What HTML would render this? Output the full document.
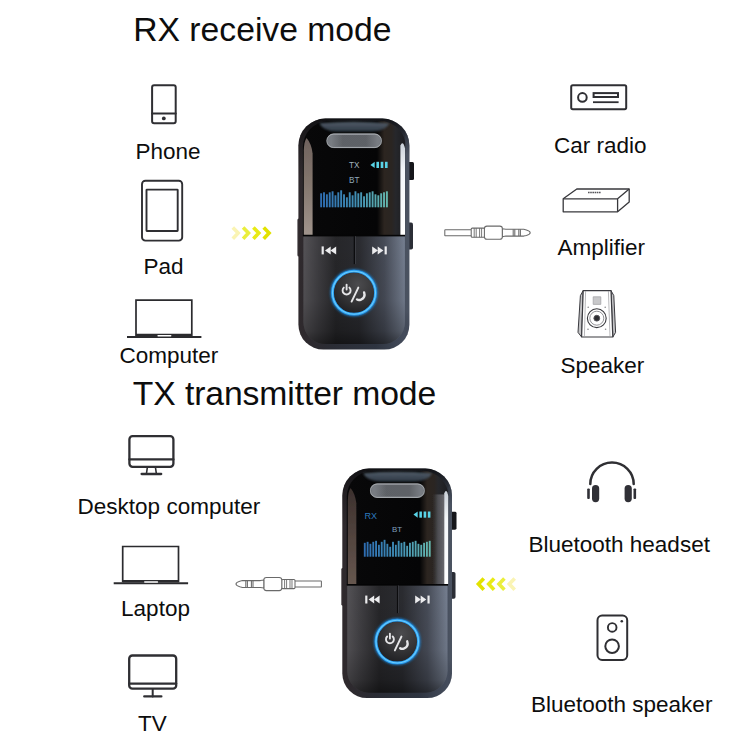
<!DOCTYPE html>
<html>
<head>
<meta charset="utf-8">
<title>RX receive mode / TX transmitter mode</title>
<style>
html,body{margin:0;padding:0;background:#fff;}
body{width:750px;height:750px;position:relative;overflow:hidden;font-family:"Liberation Sans",sans-serif;color:#0d0d0d;}
.t{position:absolute;white-space:nowrap;line-height:1;margin:0;}
.h{font-size:33.7px;font-weight:normal;}
.l{font-size:22.5px;}
svg{position:absolute;left:0;top:0;}
svg text{font-family:"Liberation Sans",sans-serif;}
</style>
</head>
<body>
<svg width="750" height="750" viewBox="0 0 750 750">

<defs>
  <linearGradient id="gBody" x1="0" y1="0" x2="1" y2="0">
    <stop offset="0" stop-color="#2f292c"/>
    <stop offset="0.3" stop-color="#2a2c34"/>
    <stop offset="0.7" stop-color="#2e3440"/>
    <stop offset="1" stop-color="#485060"/>
  </linearGradient>
  <linearGradient id="gBodyV" x1="0" y1="0" x2="0" y2="1">
    <stop offset="0" stop-color="#0c0c0e" stop-opacity="0.85"/>
    <stop offset="0.1" stop-color="#0c0c0e" stop-opacity="0.35"/>
    <stop offset="0.25" stop-color="#0c0c0e" stop-opacity="0"/>
    <stop offset="1" stop-color="#0c0c0e" stop-opacity="0"/>
  </linearGradient>
  <linearGradient id="gRim" x1="0" y1="0" x2="0" y2="1">
    <stop offset="0" stop-color="#3a414d" stop-opacity="0"/>
    <stop offset="0.12" stop-color="#4a5260"/>
    <stop offset="0.85" stop-color="#4a5260"/>
    <stop offset="1" stop-color="#363c49" stop-opacity="0"/>
  </linearGradient>
  <linearGradient id="gScreen" x1="0" y1="0" x2="1" y2="0">
    <stop offset="0" stop-color="#080809"/>
    <stop offset="0.72" stop-color="#050506"/>
    <stop offset="0.79" stop-color="#2c2520"/>
    <stop offset="0.86" stop-color="#2a2522"/>
    <stop offset="0.9" stop-color="#26272b"/>
    <stop offset="1" stop-color="#1b1c20"/>
  </linearGradient>
  <linearGradient id="gLeftBand" x1="0" y1="0" x2="0" y2="1">
    <stop offset="0" stop-color="#6f625e"/>
    <stop offset="0.5" stop-color="#85786f"/>
    <stop offset="1" stop-color="#a0948c"/>
  </linearGradient>
  <linearGradient id="gRightBand" x1="0" y1="0" x2="0" y2="1">
    <stop offset="0" stop-color="#c9d0d8"/>
    <stop offset="0.3" stop-color="#f4f7fa"/>
    <stop offset="1" stop-color="#ffffff"/>
  </linearGradient>
  <linearGradient id="gLeftBand2" x1="0" y1="0" x2="0" y2="1">
    <stop offset="0" stop-color="#3b302d"/>
    <stop offset="0.5" stop-color="#52443e"/>
    <stop offset="1" stop-color="#66574f"/>
  </linearGradient>
  <linearGradient id="gGrayBand" x1="0" y1="0" x2="1" y2="0">
    <stop offset="0" stop-color="#3a3a3e" stop-opacity="0"/>
    <stop offset="0.45" stop-color="#505054" stop-opacity="0.9"/>
    <stop offset="1" stop-color="#6a6a70"/>
  </linearGradient>
  <g id="ov1" clip-path="url(#cBody)">
    <path d="M5.4 116.2 V32 Q5.6 23 8.2 19.5 Q13 25 14.2 35 V116.2 Z" fill="url(#gLeftBand)" filter="url(#fSoft2)"/>
    <path d="M102 116.2 V27 Q104.5 21 106.7 30 V116.2 Z" fill="url(#gRightBand)" filter="url(#fSoft2)"/>
    <rect x="106.7" y="10" width="4.3" height="215" fill="url(#gRim)"/>
  </g>
  <g id="ov2" clip-path="url(#cBody)">
    <path d="M5.6 116.2 V32 Q5.8 23 8.4 19.5 Q13 25 14.2 35 V116.2 Z" fill="url(#gLeftBand2)" filter="url(#fSoft2)"/>
    <rect x="91" y="26" width="12.4" height="90.2" fill="url(#gGrayBand)" filter="url(#fSoft2)"/>
    <path d="M103.2 116.2 V25 Q105.4 19 107.4 28 V116.2 Z" fill="url(#gRightBand)" filter="url(#fSoft2)"/>
    <rect x="107.4" y="10" width="3.6" height="215" fill="url(#gRim)"/>
  </g>
  <linearGradient id="gPanel" x1="0" y1="0" x2="1" y2="0">
    <stop offset="0" stop-color="#58565a"/>
    <stop offset="0.13" stop-color="#434246"/>
    <stop offset="0.32" stop-color="#28282b"/>
    <stop offset="0.55" stop-color="#2c2d32"/>
    <stop offset="0.8" stop-color="#4a4f5b"/>
    <stop offset="1" stop-color="#7a8496"/>
  </linearGradient>
  <linearGradient id="gPanelV" x1="0" y1="0" x2="0" y2="1">
    <stop offset="0" stop-color="#000" stop-opacity="0.04"/>
    <stop offset="0.6" stop-color="#000" stop-opacity="0.1"/>
    <stop offset="0.88" stop-color="#000" stop-opacity="0.28"/>
    <stop offset="1" stop-color="#000" stop-opacity="0.5"/>
  </linearGradient>
  <linearGradient id="gGrille" x1="0" y1="0" x2="0" y2="1">
    <stop offset="0" stop-color="#8d9197"/>
    <stop offset="0.5" stop-color="#5d6167"/>
    <stop offset="1" stop-color="#85898f"/>
  </linearGradient>
  <linearGradient id="gBars" gradientUnits="userSpaceOnUse" x1="21.8" y1="0" x2="90.4" y2="0">
    <stop offset="0" stop-color="#2e6db2"/>
    <stop offset="0.5" stop-color="#3f8eb6"/>
    <stop offset="1" stop-color="#66b9ae"/>
  </linearGradient>
  <linearGradient id="gTop" x1="0" y1="0" x2="0" y2="1">
    <stop offset="0" stop-color="#55626f"/>
    <stop offset="1" stop-color="#323c48"/>
  </linearGradient>
  <radialGradient id="gBtn" cx="0.6" cy="0.3" r="0.8">
    <stop offset="0" stop-color="#4b4b4e"/>
    <stop offset="0.5" stop-color="#363638"/>
    <stop offset="1" stop-color="#1c1c1f"/>
  </radialGradient>
  <pattern id="pDots" width="2" height="2" patternUnits="userSpaceOnUse">
    <circle cx="0.5" cy="0.5" r="0.5" fill="#34363a"/>
    <circle cx="1.5" cy="1.5" r="0.5" fill="#34363a"/>
  </pattern>
  <filter id="fGlow" x="-30%" y="-30%" width="160%" height="160%">
    <feGaussianBlur stdDeviation="1.3"/>
  </filter>
  <filter id="fSoft" x="-20%" y="-50%" width="140%" height="200%">
    <feGaussianBlur stdDeviation="1.2"/>
  </filter>
  <filter id="fSoft2" x="-50%" y="-10%" width="200%" height="120%">
    <feGaussianBlur stdDeviation="0.6"/>
  </filter>
  <linearGradient id="gMask" gradientUnits="userSpaceOnUse" x1="33" y1="0" x2="79" y2="0">
    <stop offset="0" stop-color="#000"/>
    <stop offset="0.25" stop-color="#fff"/>
    <stop offset="0.75" stop-color="#fff"/>
    <stop offset="1" stop-color="#000"/>
  </linearGradient>
  <mask id="mG" maskUnits="userSpaceOnUse" x="33" y="16" width="46" height="13">
    <rect x="33" y="16" width="46" height="13" fill="url(#gMask)"/>
  </mask>
  <clipPath id="cBody">
    <path d="M27 0 H84 A27 27 0 0 1 111 27 V206 A25 25 0 0 1 86 231 H25 A25 25 0 0 1 0 206 V27 A27 27 0 0 1 27 0 Z"/>
  </clipPath>
  <g id="dev">
    <!-- side buttons -->
    <rect x="108" y="43.5" width="7.6" height="18" rx="1.5" fill="#15161a"/>
    <rect x="108" y="104" width="6.6" height="27" rx="1.8" fill="#2b2e36"/>
    <rect x="-1" y="100" width="4" height="38" rx="1.5" fill="#3a3437"/>
    <!-- body -->
    <path d="M27 0 H84 A27 27 0 0 1 111 27 V206 A25 25 0 0 1 86 231 H25 A25 25 0 0 1 0 206 V27 A27 27 0 0 1 27 0 Z" fill="url(#gBody)"/>
    <path d="M27 0 H84 A27 27 0 0 1 111 27 V206 A25 25 0 0 1 86 231 H25 A25 25 0 0 1 0 206 V27 A27 27 0 0 1 27 0 Z" fill="url(#gBodyV)"/>
    <g clip-path="url(#cBody)">
      <!-- screen glass -->
      <path d="M29 2.5 H82 A26 26 0 0 1 107.5 28 V117 H4.5 V28 A26 26 0 0 1 29 2.5 Z" fill="url(#gScreen)"/>
      <!-- top reflection -->
      <path d="M21 4.6 Q55 1.6 91 4.6 Q87 12.4 74 13 H38 Q25 12.4 21 4.6 Z" fill="url(#gTop)" filter="url(#fSoft)" opacity="0.95"/>
      <!-- lower panel -->
      <path d="M5 117.5 H106.5 V203.5 A22 22 0 0 1 84.5 225.5 H27 A22 22 0 0 1 5 203.5 Z" fill="url(#gPanel)"/>
      <path d="M5 117.5 H106.5 V203.5 A22 22 0 0 1 84.5 225.5 H27 A22 22 0 0 1 5 203.5 Z" fill="url(#gPanelV)"/>
      <rect x="4.5" y="116.2" width="102.5" height="1.6" fill="#050506"/>
      <!-- divider -->
      <rect x="55.3" y="117.5" width="1.3" height="28" fill="#0c0c0e"/>
      <rect x="56.6" y="117.5" width="0.8" height="28" fill="#4a4c52" opacity="0.7"/>
    </g>
    <!-- grille -->
    <rect x="28" y="14.9" width="55.5" height="14.6" rx="7.3" fill="url(#gGrille)"/>
    <rect x="29.3" y="16.1" width="52.9" height="12.2" rx="6.1" fill="#787c82"/>
    <rect x="33" y="16.3" width="46" height="11.8" fill="url(#pDots)" mask="url(#mG)"/>
    <rect x="28.5" y="15.4" width="54.5" height="13.6" rx="6.8" fill="none" stroke="#b4b8bc" stroke-width="0.9" opacity="0.8"/>
    <!-- bars -->
    <g fill="url(#gBars)">
      <rect x="21.8" y="72" width="68.6" height="16.7" fill="none"/>
      <rect x="21.80" y="74.70" width="1.89" height="14"/>
<rect x="24.66" y="73.70" width="1.89" height="15"/>
<rect x="27.52" y="75.70" width="1.89" height="13"/>
<rect x="30.38" y="73.70" width="1.89" height="15"/>
<rect x="33.23" y="72.70" width="1.89" height="16"/>
<rect x="36.09" y="76.70" width="1.89" height="12"/>
<rect x="38.95" y="73.70" width="1.89" height="15"/>
<rect x="41.81" y="71.70" width="1.89" height="17"/>
<rect x="44.67" y="75.70" width="1.89" height="13"/>
<rect x="47.53" y="78.70" width="1.89" height="10"/>
<rect x="50.38" y="73.70" width="1.89" height="15"/>
<rect x="53.24" y="76.70" width="1.89" height="12"/>
<rect x="56.10" y="72.70" width="1.89" height="16"/>
<rect x="58.96" y="74.70" width="1.89" height="14"/>
<rect x="61.82" y="73.70" width="1.89" height="15"/>
<rect x="64.68" y="77.70" width="1.89" height="11"/>
<rect x="67.53" y="74.70" width="1.89" height="14"/>
<rect x="70.39" y="73.70" width="1.89" height="15"/>
<rect x="73.25" y="72.70" width="1.89" height="16"/>
<rect x="76.11" y="75.70" width="1.89" height="13"/>
<rect x="78.97" y="76.70" width="1.89" height="12"/>
<rect x="81.83" y="74.70" width="1.89" height="14"/>
<rect x="84.68" y="73.70" width="1.89" height="15"/>
<rect x="87.54" y="72.70" width="1.89" height="16"/>
    </g>
    <!-- battery -->
    <g fill="#59d3e6">
      <path d="M72 46.3 L76.3 43.2 V49.4 Z"/>
      <rect x="78" y="43.2" width="2.6" height="6.2"/>
      <rect x="82.3" y="43.2" width="2.6" height="6.2"/>
      <rect x="86.6" y="43.2" width="2.6" height="6.2"/>
    </g>
    <!-- prev / next -->
    <g fill="#ececee">
      <rect x="23.2" y="127.8" width="2.2" height="8"/>
      <path d="M26.6 131.8 L32.3 127.8 V135.8 Z"/>
      <path d="M32 131.8 L37.8 127.8 V135.8 Z"/>
      <rect x="86.2" y="127.8" width="2.2" height="8"/>
      <path d="M85 131.8 L79.3 127.8 V135.8 Z"/>
      <path d="M79.6 131.8 L73.8 127.8 V135.8 Z"/>
    </g>
    <!-- ring button -->
    <circle cx="55.6" cy="174.1" r="21.5" fill="none" stroke="#1e8fe8" stroke-width="4.4" filter="url(#fGlow)" opacity="0.75"/>
    <circle cx="55.6" cy="174.1" r="20.4" fill="url(#gBtn)"/>
    <circle cx="55.6" cy="174.1" r="21.5" fill="none" stroke="#2a9ef2" stroke-width="2.8"/>
    <circle cx="55.6" cy="174.1" r="21.5" fill="none" stroke="#74d4ff" stroke-width="1.1" opacity="0.85"/>
    <!-- power / call icon -->
    <g fill="none" stroke="#e6e6e8" stroke-width="1.9" stroke-linecap="round">
      <path d="M45.4 169 A4 4 0 1 0 51 169"/>
      <path d="M48.2 166.2 V171"/>
      <path d="M59.9 169 L53.2 183" stroke-width="1.9"/>
      <path d="M65.7 173.8 Q67.4 178.8 62.6 181 Q60.2 182 58.6 180.8" stroke-width="2.4"/>
    </g>
  </g>
</defs>

<use href="#dev" transform="translate(298.4,118.6)"/>
<use href="#ov1" transform="translate(298.4,118.6)"/>
<g transform="translate(298.4,118.6)">
  <text x="50.6" y="49.6" font-size="8.2" fill="#a3b4be">TX</text>
  <text x="50.6" y="64.6" font-size="8.2" fill="#8fa9b8">BT</text>
</g>
<use href="#dev" transform="translate(342.3,468.6) scale(0.988,0.9935)"/>
<use href="#ov2" transform="translate(342.3,468.6) scale(0.988,0.9935)"/>
<g transform="translate(342.3,468.6) scale(0.988,0.9935)">
  <text x="22.4" y="50.8" font-size="9.2" fill="#2c78bd">RX</text>
  <text x="50.4" y="63.4" font-size="8" fill="#7f9fbc">BT</text>
</g>

<defs>
  <g id="laptop" stroke="#2b2b2e" fill="none" stroke-linejoin="miter" stroke-linecap="butt">
    <path d="M136 336 V300.2 H191.8 V336" stroke-width="1.7"/>
    <path d="M136 335 H191.8" stroke-width="2.6"/>
    <path d="M127 337 H201.4" stroke-width="2"/>
    <rect x="157.4" y="334.9" width="14" height="1.5" rx="0.6" fill="#fff" stroke="none"/>
  </g>
</defs>
<g fill="none" stroke="#2f2f33" stroke-width="2" stroke-linejoin="round" stroke-linecap="round">
  <!-- phone -->
  <rect x="152.1" y="85.2" width="23.6" height="38" rx="2"/>
  <path d="M152.1 113.4 H175.7"/>
  <circle cx="163.8" cy="118.4" r="1.9" fill="#2f2f33" stroke="none"/>
  <!-- pad -->
  <rect x="142" y="180.8" width="40.2" height="59.8" rx="3.4" stroke-width="1.9"/>
  <rect x="146.5" y="189.6" width="31.2" height="41.4" rx="0.4" stroke-width="1.9"/>
  <!-- computer (laptop) -->
  <use href="#laptop" transform="translate(0,0)"/>
  <!-- car radio -->
  <rect x="571.2" y="85.2" width="55" height="24" rx="1.6"/>
  <circle cx="582.4" cy="97.4" r="4.3"/>
  <rect x="593.6" y="93.1" width="24.4" height="3.9" stroke-linejoin="miter"/>
  <path d="M593 102.2 H618.6" stroke-width="1.8" stroke-linecap="butt"/>
  <!-- desktop -->
  <rect x="129.4" y="436.2" width="44" height="30.6" rx="3.2" stroke-width="2.3"/>
  <path d="M129.4 459.4 H173.4" stroke-width="2.3"/>
  <path d="M147.4 467 L146.4 474 M155.4 467 L156.4 474" stroke-width="1.6"/>
  <path d="M141.6 474 H161.2" stroke-width="2.3"/>
  <!-- laptop -->
  <use href="#laptop" transform="translate(-13.3,246.3)"/>
  <!-- tv -->
  <rect x="129.2" y="655.5" width="47" height="33.2" rx="3.2" stroke-width="2.3"/>
  <path d="M129.2 683.6 H176.2" stroke-width="2.3"/>
  <path d="M152.7 689 V696.4" stroke-width="2"/>
  <path d="M144.2 696.4 H161.4" stroke-width="2.2"/>
  <!-- bluetooth speaker -->
  <rect x="597.5" y="615.6" width="29.7" height="44.3" rx="4.6"/>
  <circle cx="612.2" cy="627.4" r="4.3" stroke-width="1.9"/>
  <circle cx="612.1" cy="646.2" r="6.8"/>
  <circle cx="621.8" cy="621.3" r="1.3" fill="#2f2f33" stroke="none"/>
  <!-- headset -->
  <path d="M590.3 484 A21.7 21.5 0 0 1 633.7 484" stroke-width="2.5"/>
</g>
<g fill="#303036">
  <rect x="592" y="485" width="7.2" height="17.2" rx="3.6"/>
  <rect x="624.6" y="485" width="7.2" height="17.2" rx="3.6"/>
  <rect x="587.2" y="488.4" width="2.6" height="10.6" rx="0.9"/>
  <rect x="633.5" y="488.4" width="2.6" height="10.6" rx="0.9"/>
</g>
<!-- amplifier -->
<g fill="none" stroke="#38383c" stroke-width="1.3" stroke-linejoin="round">
  <path d="M563.2 198.8 L576.8 189 H629.2 V202 L617.6 211.8 H563.2 Z"/>
  <path d="M563.2 198.8 H617.6 V211.8 M617.6 198.8 L629.2 189"/>
  <path d="M588 192.4 H601" stroke-width="1.5" stroke="#55555a" stroke-dasharray="1.6 0.6"/>
</g>
<!-- speaker -->
<g fill="none" stroke="#3a3a3f" stroke-width="1" stroke-linejoin="round">
  <path d="M583.2 290.6 L580.4 295.6 L578 332.4 L581.6 337 Z" fill="#c4c4c6"/>
  <path d="M611 290.6 L613.8 295.6 L615.6 332.4 L612.8 337 Z" fill="#c4c4c6"/>
  <path d="M583.2 290.6 H611 L612.8 337 H581.6 Z" fill="#fff" stroke-width="1.2"/>
  <path d="M585.6 291 L584.4 336.6 M608.4 291 L610 336.6" stroke="#9a9a9e" stroke-width="0.7"/>
  <rect x="593.2" y="296.8" width="7.6" height="7.6" fill="#c8c8ca" stroke="#a6a6aa" stroke-width="0.8"/>
  <circle cx="596.8" cy="318.2" r="9.4" stroke-width="1.1"/>
  <circle cx="596.8" cy="318.2" r="7" stroke-width="0.8" stroke="#77777c"/>
  <circle cx="596.8" cy="318.2" r="2.9" fill="#2e2e32" stroke="#55555a"/>
  <g fill="#8a8a8e" stroke="none">
  <circle cx="588.2" cy="307.2" r="0.8"/>
  <circle cx="605.2" cy="307.2" r="0.8"/>
  <circle cx="588" cy="329.2" r="0.8"/>
  <circle cx="605.6" cy="329.2" r="0.8"/>
  </g>
</g>


<defs>
  <g id="cable" fill="#fff" stroke="#6a6a6a" stroke-width="1.05" stroke-linejoin="round">
    <rect x="0" y="-3" width="27" height="6" rx="0.5"/>
    <rect x="26.4" y="-4.6" width="13.4" height="9.2" rx="1"/>
    <path d="M29.4 -4.6 V4.6 M31.4 -4.6 V4.6 M34.8 -4.6 V4.6 M36.8 -4.6 V4.6" stroke-width="0.9"/>
    <rect x="39.6" y="-6.6" width="18" height="13.2" rx="2.6"/>
    <path d="M57.6 -4 L61 -3.4 H79 L81.6 -2.8 Q85.4 -1.6 85.4 0 Q85.4 1.6 81.6 2.8 L79 3.4 H61 L57.6 4 Z"/>
    <path d="M68.4 -3.4 V3.4 M70 -3.4 V3.4 M74 -3.4 V3.4 M75.6 -3.4 V3.4"/>
  </g>
  <filter id="fA" x="-20%" y="-20%" width="140%" height="140%"><feGaussianBlur stdDeviation="0.7"/></filter>
  <g id="arrows" filter="url(#fA)" fill="none" stroke-width="3.6" stroke-linejoin="miter">
    <path d="M0.8 1.8 L6.2 7.5 L0.8 13.2" stroke="#faf4b4"/>
    <path d="M11.1 1.8 L16.5 7.5 L11.1 13.2" stroke="#eaee3c"/>
    <path d="M21.4 1.8 L26.8 7.5 L21.4 13.2" stroke="#e8ea14"/>
    <path d="M31.7 1.8 L37.1 7.5 L31.7 13.2" stroke="#e2e200"/>
  </g>

</defs>
<use href="#cable" transform="translate(444.8,232.7)"/>
<use href="#cable" transform="translate(321.4,584) scale(-1,1)"/>
<use href="#arrows" transform="translate(232,225.6)"/>
<use href="#arrows" transform="translate(515.5,576.6) scale(-1,1)"/>

</svg>
<h1 class="t h" id="t1" style="left:133.2px;top:13px;">RX receive mode</h1>
<h1 class="t h" id="t2" style="left:132.8px;top:377px;letter-spacing:-0.1px;">TX transmitter mode</h1>
<div class="t l" id="l1" style="left:135.4px;top:141px;">Phone</div>
<div class="t l" id="l2" style="left:143.4px;top:256px;">Pad</div>
<div class="t l" id="l3" style="left:119.4px;top:345px;">Computer</div>
<div class="t l" id="l4" style="left:554.1px;top:135px;">Car radio</div>
<div class="t l" id="l5" style="left:557.4px;top:237px;">Amplifier</div>
<div class="t l" id="l6" style="left:560.4px;top:355px;">Speaker</div>
<div class="t l" id="l7" style="left:77.6px;top:496px;">Desktop computer</div>
<div class="t l" id="l8" style="left:121.1px;top:598px;">Laptop</div>
<div class="t l" id="l9" style="left:138px;top:713px;">TV</div>
<div class="t l" id="l10" style="left:528.5px;top:534px;">Bluetooth headset</div>
<div class="t l" id="l11" style="left:531px;top:694px;">Bluetooth speaker</div>
</body>
</html>
